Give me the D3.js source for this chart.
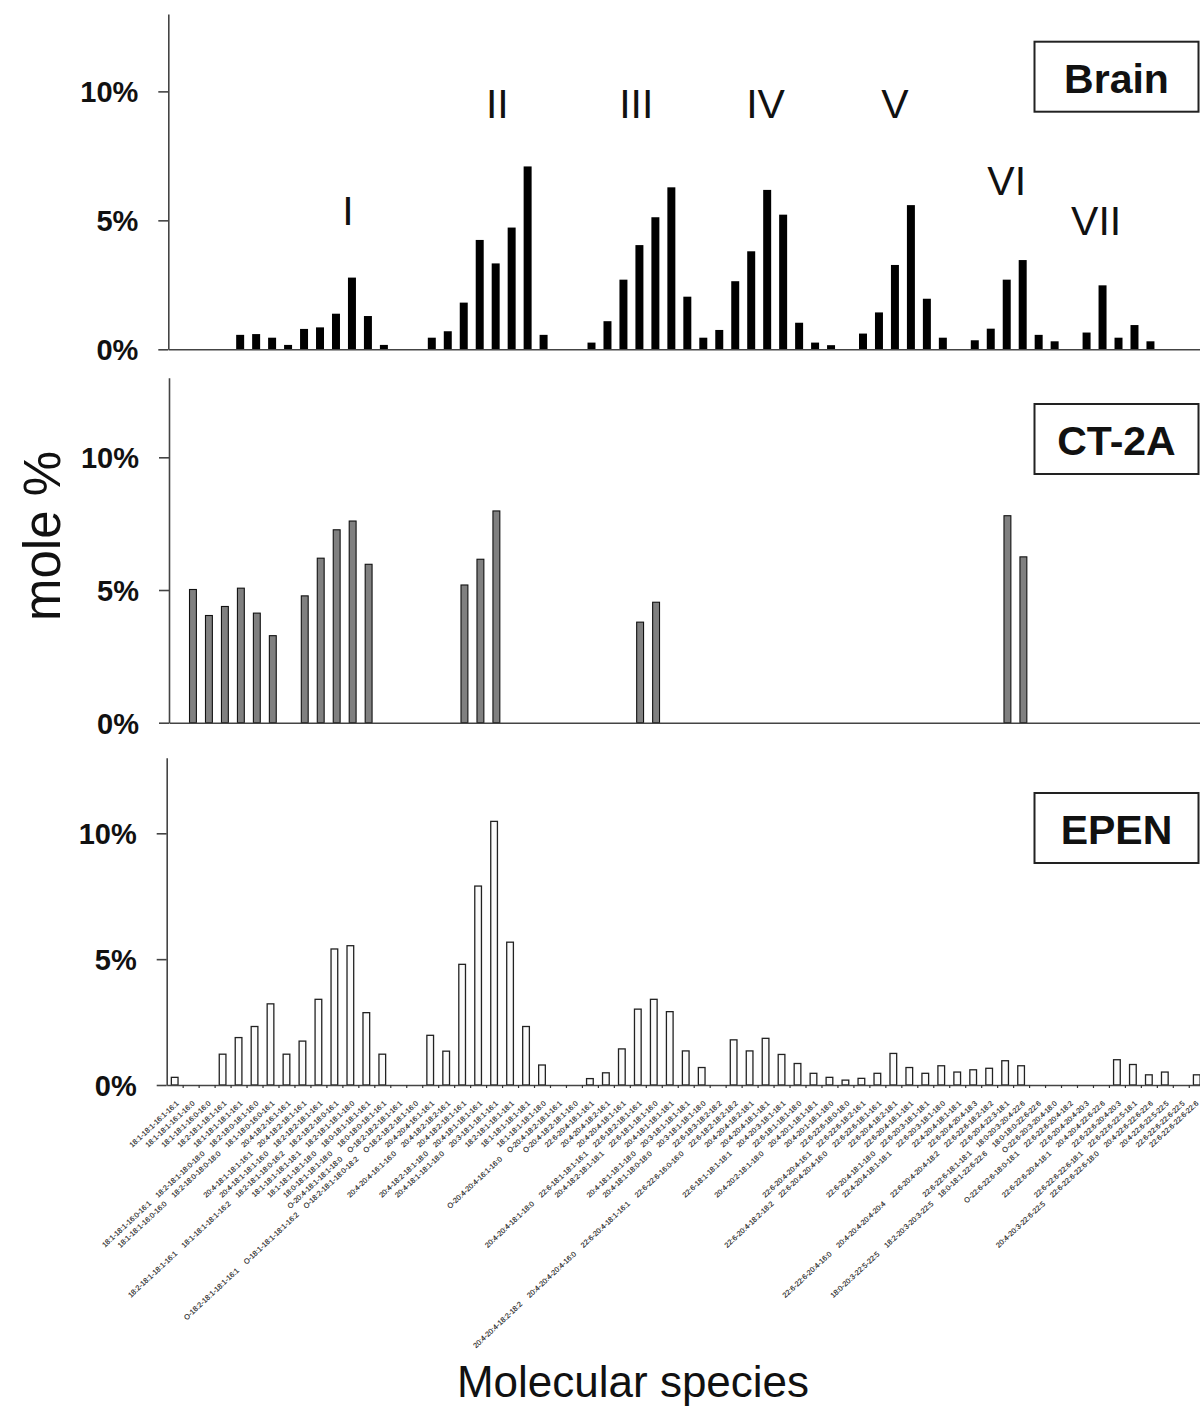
<!DOCTYPE html>
<html><head><meta charset="utf-8">
<script src="https://cdn.jsdelivr.net/npm/d3@7"></script>
<style>
body{margin:0;background:#fff}
svg{display:block}
text{font-family:"Liberation Sans",Arial,Helvetica,sans-serif}
</style>
</head><body>
<svg id="chart" width="1200" height="1409"></svg>
<script>
// ---------------- DATA ----------------
const categories = [
 "18:1-18:1-16:1-16:1","18:1-18:1-16:1-16:0","18:1-18:1-16:0-16:0","18:2-18:1-18:1-16:1","18:1-18:1-18:1-16:1",
 "18:2-18:0-18:1-16:0","18:1-18:0-16:0-16:1","20:4-18:2-16:1-16:1","20:4-18:2-18:1-16:1","18:2-18:2-18:1-16:1",
 "18:2-18:2-18:0-16:1","18:2-18:1-18:1-18:0","18:0-18:1-18:1-16:1","18:0-18:0-18:1-16:1","O-18:2-18:2-18:1-16:1",
 "O-18:2-18:2-18:1-16:0","20:4-20:4-16:1-16:1","20:4-18:2-18:2-16:1","20:4-18:2-18:1-16:1","20:4-18:1-18:1-16:1",
 "20:3-18:1-18:1-16:1","18:2-18:1-18:1-18:1","18:1-18:1-18:1-18:1","18:1-18:1-18:1-18:0","O-20:4-18:2-18:1-16:1",
 "O-20:4-18:2-18:1-16:0","22:6-20:4-18:1-16:1","20:4-20:4-18:2-16:1","20:4-20:4-18:1-16:1","22:6-18:2-18:1-16:1",
 "22:6-18:1-18:1-16:0","20:4-18:1-18:1-18:1","20:3-18:1-18:1-18:1","20:3-18:1-18:1-18:0","22:6-18:3-18:2-18:2",
 "22:6-18:2-18:2-18:2","20:4-20:4-18:2-18:1","20:4-20:4-18:1-18:1","20:4-20:3-18:1-18:1","22:6-18:1-18:1-18:0",
 "20:4-20:1-18:1-18:1","20:4-20:1-18:1-18:0","22:6-22:6-18:0-18:0","22:6-22:6-18:2-16:1","22:6-22:6-18:1-16:1",
 "22:6-20:4-18:2-18:1","22:6-20:4-18:1-18:1","22:6-20:3-18:1-18:1","22:6-20:3-18:1-18:0","22:4-20:4-18:1-18:1",
 "22:6-20:4-20:4-18:3","22:6-22:6-18:2-18:2","22:6-20:4-22:3-18:1","18:0-20:3-20:4-22:6","18:0-18:0-22:6-22:6",
 "O-22:6-20:3-20:4-18:0","22:6-22:6-20:4-18:2","22:6-20:4-20:4-20:3","20:4-20:4-22:6-22:6","22:6-22:6-20:4-20:3",
 "22:6-22:6-22:5-18:1","20:4-22:6-22:6-22:6","20:4-22:6-22:5-22:5","22:6-22:6-22:6-22:5","22:6-22:6-22:6-22:6"
];

// further isobaric species named in the same category label: [category index, names]
const isobaricSpecies = [
 [5,  ["18:2-18:1-18:0-18:0","18:1-18:1-16:0-16:1"]],
 [6,  ["18:2-18:0-18:0-18:0","18:1-18:1-16:0-16:0"]],
 [8,  ["20:4-18:1-18:1-16:1"]],
 [9,  ["20:4-18:1-18:1-16:0"]],
 [10, ["18:2-18:1-18:0-16:2","18:1-18:1-18:1-16:2","18:2-18:1-18:1-16:1"]],
 [11, ["18:1-18:1-18:1-18:1"]],
 [12, ["18:1-18:1-18:1-18:0"]],
 [13, ["18:0-18:1-18:1-18:0"]],
 [14, ["O-20:4-18:1-18:1-18:0"]],
 [15, ["O-18:2-18:1-18:0-18:2","O-18:1-18:1-18:1-16:2","O-18:2-18:1-18:1-16:1"]],
 [17, ["20:4-20:4-16:1-16:0"]],
 [19, ["20:4-18:2-18:1-18:0"]],
 [20, ["20:4-18:1-18:1-18:0"]],
 [24, ["O-20:4-20:4-16:1-16:0"]],
 [29, ["22:6-18:1-18:1-16:1","20:4-20:4-18:1-18:0"]],
 [30, ["20:4-18:2-18:1-18:1"]],
 [32, ["20:4-18:1-18:1-18:0"]],
 [33, ["20:4-18:1-18:0-18:0"]],
 [35, ["22:6-22:6-16:0-16:0","22:6-20:4-18:1-16:1","20:4-20:4-20:4-16:0","20:4-20:4-18:2-18:2"]],
 [38, ["22:6-18:1-18:1-18:1"]],
 [40, ["20:4-20:2-18:1-18:0"]],
 [43, ["22:6-20:4-20:4-16:1"]],
 [44, ["22:6-20:4-20:4-16:0","22:6-20:4-18:2-18:2"]],
 [47, ["22:6-20:4-18:1-18:0"]],
 [48, ["22:4-20:4-18:1-18:1"]],
 [51, ["22:6-20:4-20:4-18:2","20:4-20:4-20:4-20:4","22:6-22:6-20:4-16:0"]],
 [53, ["22:6-22:6-18:1-18:1"]],
 [54, ["18:0-18:1-22:6-22:6","18:2-20:3-20:3-22:5","18:0-20:3-22:5-22:5"]],
 [56, ["O-22:6-22:6-18:0-18:1"]],
 [58, ["22:6-22:6-20:4-18:1"]],
 [60, ["22:6-22:6-22:6-18:1"]],
 [61, ["22:6-22:6-22:6-18:0","20:4-20:3-22:6-22:5"]]
];

const brainValues = [
 0,0,0,0,0.56, 0.59,0.45,0.17,0.79,0.85, 1.38,2.78,1.29,0.17,0, 0,0.45,0.70,1.81,4.24,
 3.33,4.72,7.09,0.56,0, 0,0.26,1.09,2.70,4.04, 5.12,6.28,2.04,0.45,0.75, 2.64,3.80,6.18,5.22,1.03,
 0.26,0.16,0,0.61,1.43, 3.27,5.59,1.96,0.45,0, 0.35,0.80,2.70,3.46,0.56, 0.31,0,0.65,2.48,0.45,
 0.94,0.31,0,0,0
];
const ct2aValues = [
 0,5.04,4.06,4.40,5.09, 4.15,3.30,0,4.80,6.22, 7.29,7.62,5.99,0,0, 0,0,0,5.21,6.18,
 8.00,0,0,0,0, 0,0,0,0,3.81, 4.56,0,0,0,0, 0,0,0,0,0,
 0,0,0,0,0, 0,0,0,0,0, 0,0,7.82,6.27,0, 0,0,0,0,0,
 0,0,0,0,0
];
const epenValues = [
 0.33,0,0,1.25,1.91, 2.35,3.25,1.25,1.77,3.43, 5.43,5.56,2.90,1.25,0, 0,2.00,1.37,4.82,7.93,
 10.50,5.70,2.35,0.82,0, 0,0.28,0.51,1.46,3.04, 3.43,2.94,1.38,0.72,0, 1.82,1.38,1.88,1.24,0.88,
 0.49,0.33,0.22,0.29,0.49, 1.28,0.72,0.49,0.79,0.54, 0.63,0.69,0.99,0.79,0, 0,0,0,0,1.03,
 0.84,0.43,0.54,0,0.43
];

const yTickValues = [0, 5, 10];
const yTickLabels = ["0%", "5%", "10%"];
const yMax = 13;

// group numerals for the Brain panel: name, category position, height (mole %)
const groupNames  = ["I", "II", "III", "IV", "V", "VI", "VII"];
const groupCat    = [10.75, 20.1, 28.8, 36.9, 45, 52, 57.6];
const groupLevel  = [4.81, 8.97, 8.97, 8.97, 8.97, 5.97, 4.42];

// ---------------- LAYOUT ----------------
const svg = d3.select("#chart");
svg.append("rect").attr("width", 1200).attr("height", 1409).attr("fill", "#fff");

const step = 15.97;
const n = categories.length;
const panels = [
  {name: "Brain", values: brainValues, x0: 168.3, base: 349.3, top: 14,    fill: "#000",    stroke: "none", sw: 0,   boxY: 41.7, ticks: false},
  {name: "CT-2A", values: ct2aValues,  x0: 169.0, base: 722.7, top: 377.7, fill: "#808080", stroke: "#111", sw: 1.1, boxY: 404,  ticks: false},
  {name: "EPEN",  values: epenValues,  x0: 166.7, base: 1085,  top: 757.8, fill: "#fbfbfb", stroke: "#222", sw: 1.3, boxY: 793,  ticks: true}
];

const axisColor = "#444";
let epenX = null;

panels.forEach(p => {
  const x = d3.scaleBand().domain(d3.range(n))
    .range([p.x0, p.x0 + step * n]).paddingInner(0.5).paddingOuter(0.25);
  const y = d3.scaleLinear().domain([0, yMax]).range([p.base, p.top]);
  p.x = x; p.y = y;
  if (p.name === "EPEN") epenX = x;

  const g = svg.append("g");

  // bars
  const bw = x.bandwidth();
  g.selectAll("rect.bar")
    .data(p.values.map((v, i) => ({v, i})).filter(d => d.v > 0))
    .join("rect")
    .attr("class", "bar")
    .attr("x", d => x(d.i) + p.sw / 2)
    .attr("y", d => y(d.v) + p.sw / 2)
    .attr("width", bw - p.sw)
    .attr("height", d => Math.max(0, p.base - y(d.v) - p.sw / 2))
    .attr("fill", p.fill)
    .attr("stroke", p.stroke)
    .attr("stroke-width", p.sw);

  // y axis
  const yAxis = d3.axisLeft(y).tickValues(yTickValues).tickSize(10).tickSizeOuter(0)
    .tickFormat((d, i) => yTickLabels[i]).tickPadding(20);
  const ya = g.append("g").attr("transform", `translate(${p.x0},0)`).call(yAxis);
  ya.select(".domain").attr("stroke", axisColor).attr("stroke-width", 1.6);
  ya.selectAll(".tick line").attr("stroke", axisColor).attr("stroke-width", 1.6);
  ya.selectAll(".tick text").attr("fill", "#111").attr("dy", "0.36em")
    .style("font-size", "29px").style("font-weight", "bold")
    .style("font-family", '"Liberation Sans", Arial, sans-serif');

  // x axis
  const xb = d3.scaleLinear().domain([0, n]).range([p.x0, p.x0 + step * n]);
  const xAxis = d3.axisBottom(xb).tickValues(p.ticks ? d3.range(1, n + 1) : [])
    .tickSize(3).tickSizeOuter(0).tickFormat("");
  const xa = g.append("g").attr("transform", `translate(0,${p.base})`).call(xAxis);
  xa.select(".domain").attr("stroke", axisColor).attr("stroke-width", 1.6);
  xa.selectAll(".tick line").attr("stroke", "#333").attr("stroke-width", 1.2);

  // title box
  g.append("rect").attr("x", 1034.5).attr("y", p.boxY).attr("width", 164).attr("height", 70)
    .attr("fill", "#fff").attr("stroke", "#222").attr("stroke-width", 2);
  g.append("text").attr("x", 1116.5).attr("y", p.boxY + 51).attr("text-anchor", "middle")
    .style("font-size", "41px").style("font-weight", "bold").attr("fill", "#111").text(p.name);
});

// group numerals
const brain = panels[0];
svg.append("g").selectAll("text")
  .data(groupNames.map((name, i) => ({name, c: groupCat[i], lv: groupLevel[i]})))
  .join("text")
  .attr("x", d => brain.x0 + step * (d.c + 0.5))
  .attr("y", d => brain.y(d.lv))
  .attr("text-anchor", "middle")
  .style("font-size", "41px").attr("fill", "#111")
  .text(d => d.name);

// category labels (rotated, several isobaric species per category)
const extra = new Map(isobaricSpecies);
const labelG = svg.append("g");
categories.forEach((name, i) => {
  const names = [name, ...(extra.get(i) || [])].reverse();
  const cx = epenX(i) + epenX.bandwidth() / 2;
  const t = labelG.append("text")
    .attr("transform", `translate(${Math.min(cx + 4.5, 1199)},1104) rotate(-43)`)
    .attr("text-anchor", "end")
    .style("font-size", "7.3px")
    .attr("fill", "#111")
    .attr("stroke", "#333").attr("stroke-width", 0.15);
  names.forEach((s, k) => t.append("tspan").attr("dx", k ? 9.5 : 0).text(s));
});

// axis titles
svg.append("text").attr("transform", "translate(60,536) rotate(-90)")
  .attr("text-anchor", "middle").style("font-size", "51px").attr("fill", "#111").text("mole %");
svg.append("text").attr("x", 633).attr("y", 1397).attr("text-anchor", "middle")
  .style("font-size", "44px").attr("fill", "#111").text("Molecular species");
</script>
</body></html>
